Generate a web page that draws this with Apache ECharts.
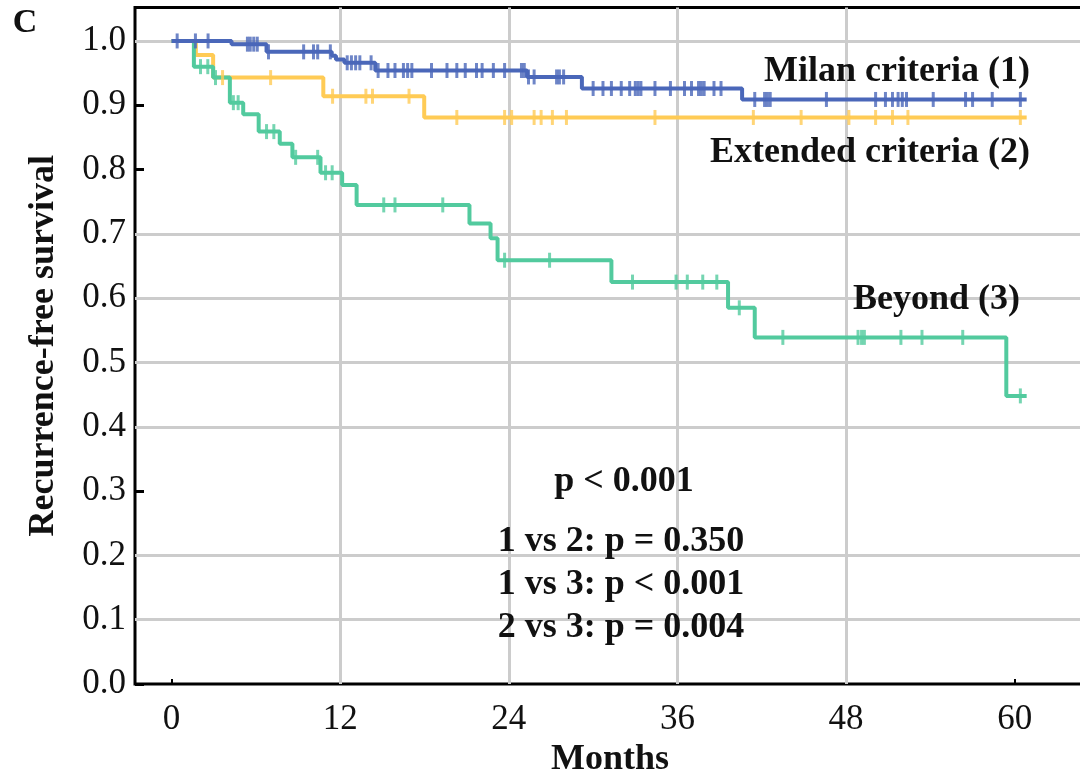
<!DOCTYPE html>
<html>
<head>
<meta charset="utf-8">
<script src="https://cdn.jsdelivr.net/npm/echarts@6/dist/echarts.min.js"></script>
<style>
  html, body { margin: 0; padding: 0; background: #ffffff; }
  #chart { width: 1080px; height: 773px; }
</style>
</head>
<body>
<div id="chart"></div>
<script>
// Kaplan-Meier recurrence-free survival by selection criteria

const monthTicks = [0, 12, 24, 36, 48, 60];
const monthGridLines = [12, 24, 36, 48];
const survivalLabels = [0, 0.1, 0.2, 0.3, 0.4, 0.5, 0.6, 0.7, 0.8, 0.9, 1.0];
const survivalTickMarks = [0, 0.2, 0.3, 0.4, 0.5, 0.6, 0.7, 0.8, 0.9, 1.0];
const survivalGridLines = [1.0, 0.7, 0.6, 0.5, 0.4, 0.2, 0.1];

// Milan criteria (1): step times (months) and survival after each step
const milanTimes = [0, 4.27, 6.76, 11.4, 11.7, 12.3, 14.5, 25.3, 29.2, 40.6, 60.85];
const milanSurv  = [1.0, 0.995, 0.983, 0.977, 0.971, 0.966, 0.954, 0.944, 0.926, 0.909, 0.909];
const milanCensored = [0.4, 1.7, 2.6, 5.4, 5.6, 5.85, 6.1, 6.9, 9.4, 10.1, 10.4, 11.3, 12.5, 12.8, 13.1,
  13.4, 14.2, 14.7, 15.4, 15.9, 16.5, 16.8, 17.1, 18.5, 19.6, 20.3, 20.9, 21.7, 22.1, 22.9, 23.7, 24.9,
  25.1, 25.4, 25.8, 27.4, 27.6, 27.9, 30.0, 30.7, 31.3, 32.0, 32.6, 33.0, 33.2, 33.4, 34.4, 35.5, 36.5,
  37.0, 37.5, 37.7, 37.9, 38.6, 39.1, 41.5, 42.2, 42.4, 42.6, 46.6, 50.1, 50.8, 51.3, 51.7, 52.0, 52.3,
  54.2, 56.5, 57.0, 58.4, 60.4];

// Extended criteria (2)
const extendedTimes = [0, 1.73, 2.96, 10.8, 17.98, 60.85];
const extendedSurv  = [1.0, 0.978, 0.943, 0.914, 0.881, 0.881];
const extendedCensored = [3.63, 7.05, 11.46, 13.83, 14.3, 16.9, 20.3, 23.7, 24.2, 25.8, 26.3, 27.1,
  28.1, 34.4, 41.4, 44.8, 48.2, 50.1, 51.3, 52.4, 60.4];

// Beyond (3)
const beyondTimes = [0, 1.59, 2.96, 4.15, 5.1, 6.2, 7.7, 8.6, 10.6, 12.14, 13.17, 21.2, 22.7, 23.2,
  31.3, 39.6, 41.5, 59.4, 60.85];
const beyondSurv  = [1.0, 0.960, 0.943, 0.904, 0.886, 0.859, 0.840, 0.819, 0.795, 0.776, 0.745,
  0.716, 0.693, 0.659, 0.625, 0.585, 0.539, 0.448, 0.448];
const beyondCensored = [2.06, 2.58, 3.13, 4.4, 4.74, 6.76, 7.28, 8.83, 10.4, 10.96, 11.43, 15.1, 15.9,
  19.3, 23.7, 26.9, 32.8, 35.9, 36.7, 37.8, 38.8, 40.4, 43.5, 48.85, 49.1, 49.3, 51.9, 53.4, 56.3, 60.4];

const groupNames = ['Milan criteria (1)', 'Extended criteria (2)', 'Beyond (3)'];
const statTexts = ['p < 0.001', '1 vs 2: p = 0.350', '1 vs 3: p < 0.001', '2 vs 3: p = 0.004'];

const BLUE = '#4a67b9';
const YELLOW = '#ffcb55';
const GREEN = '#52ca9e';
const SERIF = '"Liberation Serif", "Times New Roman", serif';
const INK = '#111111';

// survival level in effect at time t
function survivalAt(times, surv, t) {
  let v = surv[0];
  for (let i = 0; i < times.length; i++) {
    if (times[i] <= t + 1e-9) v = surv[i];
  }
  return v;
}

function curveSeries(name, times, surv, color) {
  return {
    name: name,
    type: 'line',
    step: 'end',
    data: times.map((t, i) => [t, surv[i]]),
    symbol: 'none',
    lineStyle: { color: color, width: 4 },
    z: 8,
    silent: true
  };
}

function censorSeries(name, times, surv, censored, color) {
  return {
    name: name + ' censored',
    type: 'scatter',
    data: censored.map(t => [t, survivalAt(times, surv, t)]),
    symbol: 'rect',
    symbolSize: [3, 15],
    itemStyle: { color: color },
    z: 9,
    silent: true
  };
}

function annotation(text, x, y, align) {
  return {
    type: 'text', x: x, y: y, z: 10,
    style: { text: text, font: 'bold 36px ' + SERIF, fill: INK, align: align, verticalAlign: 'middle' }
  };
}

const chart = echarts.init(document.getElementById('chart'), null, { renderer: 'canvas' });

const option = {
  animation: false,
  backgroundColor: '#ffffff',
  grid: {
    left: 135, right: -5, top: 7.5, bottom: 89,
    outerBoundsMode: 'none',
    containLabel: false,
    show: true, borderColor: '#000000', borderWidth: 3, backgroundColor: 'transparent'
  },
  xAxis: {
    type: 'value',
    min: -2.6, max: 65,
    name: 'Months',
    nameLocation: 'middle',
    nameGap: 58,
    nameTextStyle: { fontFamily: SERIF, fontWeight: 'bold', fontSize: 36, color: INK },
    axisLine: { show: false, onZero: false },
    axisTick: { show: true, inside: true, length: 5, lineStyle: { color: '#000', width: 2 }, customValues: monthTicks },
    axisLabel: { fontFamily: SERIF, fontSize: 35, color: INK, margin: 18, customValues: monthTicks },
    splitLine: { show: false }
  },
  yAxis: {
    type: 'value',
    min: 0, max: 1.052,
    name: 'Recurrence-free survival',
    nameLocation: 'middle',
    nameGap: 73,
    nameTextStyle: { fontFamily: SERIF, fontWeight: 'bold', fontSize: 36, color: INK },
    axisLine: { show: false, onZero: false },
    axisTick: { show: true, inside: true, length: 9, lineStyle: { color: '#000', width: 3 }, customValues: survivalTickMarks },
    axisLabel: {
      fontFamily: SERIF, fontSize: 35, color: INK, margin: 9,
      customValues: survivalLabels,
      formatter: v => v.toFixed(1)
    },
    splitLine: { show: false }
  },
  series: [
    {
      name: 'grid lines',
      type: 'line',
      data: [],
      silent: true,
      z: 1,
      markLine: {
        silent: true,
        z: 1,
        symbol: 'none',
        label: { show: false },
        lineStyle: { color: '#cccccc', width: 3, type: 'solid' },
        data: monthGridLines.map(m => ({ xAxis: m }))
          .concat(survivalGridLines.map(v => ({ yAxis: v })))
      }
    },
    curveSeries(groupNames[1], extendedTimes, extendedSurv, YELLOW),
    curveSeries(groupNames[2], beyondTimes, beyondSurv, GREEN),
    curveSeries(groupNames[0], milanTimes, milanSurv, BLUE),
    censorSeries(groupNames[1], extendedTimes, extendedSurv, extendedCensored, YELLOW),
    censorSeries(groupNames[2], beyondTimes, beyondSurv, beyondCensored, GREEN),
    censorSeries(groupNames[0], milanTimes, milanSurv, milanCensored, BLUE)
  ],
  graphic: [
    { type: 'text', x: 25, y: 23, style: { text: 'C', font: 'bold 34px ' + SERIF, fill: INK, align: 'center', verticalAlign: 'middle' } },
    annotation(groupNames[0], 1030, 72, 'right'),
    annotation(groupNames[1], 1030, 153, 'right'),
    annotation(groupNames[2], 1020, 300, 'right'),
    annotation(statTexts[0], 624, 482, 'center'),
    annotation(statTexts[1], 621, 542, 'center'),
    annotation(statTexts[2], 621, 585, 'center'),
    annotation(statTexts[3], 621, 628, 'center')
  ]
};

chart.setOption(option);
</script>
</body>
</html>
